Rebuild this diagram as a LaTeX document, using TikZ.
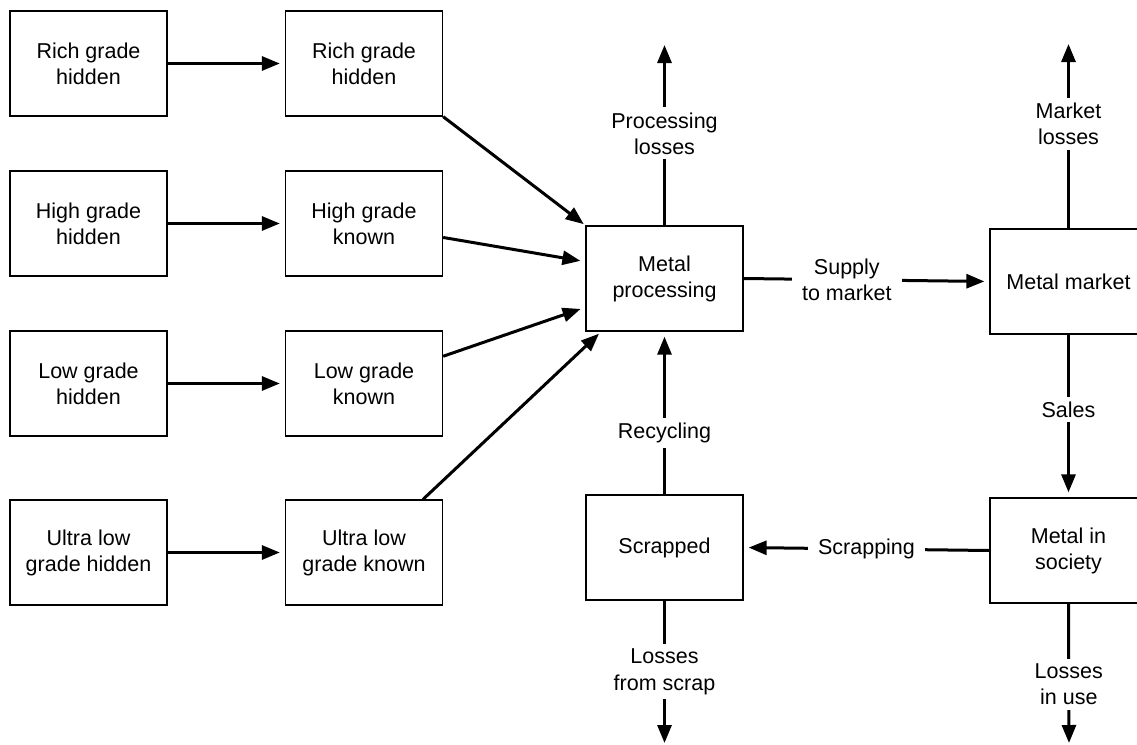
\documentclass[tikz,border=0pt]{standalone}
\usepackage{fontspec}
\setmainfont{Liberation Sans}
\usetikzlibrary{arrows.meta,calc}

\begin{document}
\begin{tikzpicture}[x=1pt,y=-1pt,
  every node/.style={font=\fontsize{21.5}{26}\selectfont},
  box/.style={draw, line width=1.3pt, minimum width=157pt, minimum height=105pt,
              align=center, inner sep=0pt},
  flow/.style={line width=3pt, -{Triangle[length=18pt,width=14pt]}, shorten >=5pt},
  outflow/.style={line width=3pt, -{Triangle[length=18pt,width=14pt]}},
  lbl/.style={fill=white, align=center, inner xsep=10pt, inner ysep=5pt}]

\useasboundingbox (0,0) rectangle (1137,744);

% ore deposits: hidden and known
\node[box] (rh) at (88.5,63.5)  {Rich grade\\hidden};
\node[box] (rk) at (364,63.5)   {Rich grade\\hidden};
\node[box] (hh) at (88.5,223.5) {High grade\\hidden};
\node[box] (hk) at (364,223.5)  {High grade\\known};
\node[box] (lh) at (88.5,383.5) {Low grade\\hidden};
\node[box] (lk) at (364,383.5)  {Low grade\\known};
\node[box] (uh) at (88.5,552.5) {Ultra low\\grade hidden};
\node[box] (uk) at (364,552.5)  {Ultra low\\grade known};

% metal cycle
\node[box] (mp) at (664.5,278.5)  {Metal\\processing};
\node[box] (sc) at (664.5,547.5)  {Scrapped};
\node[box] (mm) at (1068.5,281.5) {Metal market};
\node[box] (ms) at (1068.5,550.5) {Metal in\\society};

% open ends of the loss flows
\coordinate (plEnd) at (664.5,45);
\coordinate (mlEnd) at (1068.5,44);
\coordinate (lsEnd) at (664.5,743);
\coordinate (luEnd) at (1069,743);

% discovery
\draw[flow] (rh) -- (rk);
\draw[flow] (hh) -- (hk);
\draw[flow] (lh) -- (lk);
\draw[flow] (uh) -- (uk);

% mining into processing
\draw[flow, shorten >=2pt] (rk.south east) -- (mp.north west);
\draw[flow] (hk.-10.5) -- (mp.168.5);
\draw[flow] (lk.19.3) -- (mp.200);
\draw[flow, shorten >=3pt] (uk.42.6) -- (mp.220.5);

% flows between stocks
\draw[outflow] (mp.north) -- node[lbl, pos=0.51] {Processing\\losses} (plEnd);
\draw[flow] (mp.east) -- node[lbl, pos=0.42] {Supply\\to market} (mm.west);
\draw[outflow] (mm.north) -- node[lbl, pos=0.565] {Market\\losses} (mlEnd);
\draw[flow] (mm.south) -- node[lbl, pos=0.46] {Sales} (ms.north);
\draw[flow] (ms.west) -- node[lbl, pos=0.5] {Scrapping} (sc.east);
\draw[flow] (sc.north) -- node[lbl, pos=0.38] {Recycling} (mp.south);
\draw[outflow] (sc.south) -- node[lbl, pos=0.5] {Losses\\from scrap} (lsEnd);
\draw[outflow] (ms.south) -- node[lbl, pos=0.58] {Losses\\in use} (luEnd);

\end{tikzpicture}
\end{document}
